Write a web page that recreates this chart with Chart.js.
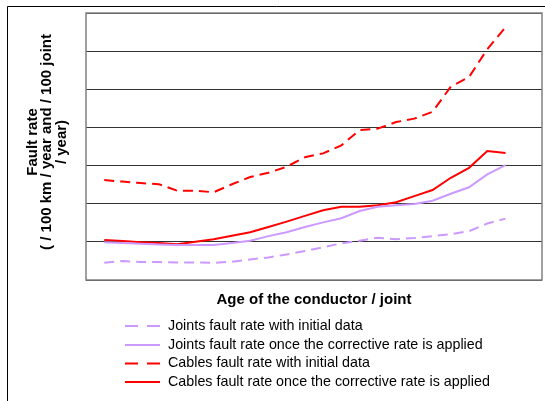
<!DOCTYPE html>
<html>
<head>
<meta charset="utf-8">
<script src="https://cdn.jsdelivr.net/npm/chart.js@4.4.1/dist/chart.umd.min.js"></script>
<style>
  html, body { margin: 0; padding: 0; background: #fff; }
  #wrap { position: relative; width: 545px; height: 401px; }
</style>
</head>
<body>
<div id="wrap"><canvas id="c" width="545" height="401"></canvas></div>
<script>
// Age of the conductor / joint (years)
const ages = [1, 2, 3, 4, 5, 6, 7, 8, 9, 10, 11, 12, 13, 14, 15, 16, 17, 18, 19, 20, 21, 22, 23];

// Fault rate series
const jointsInitial   = [0.45, 0.50, 0.47, 0.47, 0.46, 0.46, 0.45, 0.48, 0.54, 0.59, 0.67, 0.76, 0.86, 0.96, 1.03, 1.11, 1.07, 1.10, 1.15, 1.20, 1.28, 1.48, 1.61];
const jointsCorrected = [0.99, 0.97, 0.95, 0.93, 0.92, 0.92, 0.92, 0.97, 1.03, 1.15, 1.25, 1.39, 1.51, 1.62, 1.81, 1.92, 1.96, 1.99, 2.08, 2.26, 2.43, 2.77, 3.01];
const cablesInitial   = [2.62, 2.58, 2.54, 2.51, 2.34, 2.34, 2.30, 2.51, 2.70, 2.81, 2.97, 3.22, 3.32, 3.53, 3.93, 3.97, 4.14, 4.23, 4.41, 5.07, 5.32, 6.05, 6.63];
const cablesCorrected = [1.05, 1.02, 0.99, 0.97, 0.94, 1.00, 1.07, 1.16, 1.25, 1.39, 1.53, 1.68, 1.83, 1.92, 1.92, 1.96, 2.04, 2.20, 2.36, 2.68, 2.94, 3.38, 3.33];

const seriesLabels = [
  'Joints fault rate with initial data',
  'Joints fault rate once the corrective rate is applied',
  'Cables fault rate with initial data',
  'Cables fault rate once the corrective rate is applied'
];
const yTitleLines = ['Fault rate', '( / 100 km / year and / 100 joint', '/ year)'];
const xTitle = 'Age of the conductor / joint';

const PURPLE = '#cc99ff';
const RED = '#ff0000';
const DASH = [10, 6];

function pts(values) {
  return values.map((v, i) => ({ x: ages[i], y: v }));
}

function series(label, values, color, dashed) {
  return {
    label: label,
    data: pts(values),
    borderColor: color,
    backgroundColor: color,
    borderWidth: 2,
    borderDash: dashed ? DASH : [],
    pointRadius: 0,
    tension: 0,
    fill: false
  };
}

// Titles, frame and legend drawn on top of the chart
const decorations = {
  id: 'decorations',
  afterDraw(chart) {
    const ctx = chart.ctx;
    const a = chart.chartArea;
    ctx.save();

    // outer frame
    ctx.strokeStyle = '#000';
    ctx.lineWidth = 1;
    ctx.beginPath();
    ctx.moveTo(7.5, 401);
    ctx.lineTo(7.5, 6.5);
    ctx.lineTo(545, 6.5);
    ctx.stroke();

    // plot border
    ctx.strokeStyle = '#808080';
    ctx.lineWidth = 1.5;
    ctx.strokeRect(a.left, a.top, a.right - a.left, a.bottom - a.top);

    // y axis title
    ctx.fillStyle = '#000';
    ctx.font = 'bold 15px "Liberation Sans", Arial, sans-serif';
    ctx.textAlign = 'center';
    ctx.textBaseline = 'alphabetic';
    const baselines = [36.5, 51.2, 66];
    const cy = 142;
    yTitleLines.forEach((t, i) => {
      ctx.save();
      ctx.translate(baselines[i], cy);
      ctx.rotate(-Math.PI / 2);
      ctx.fillText(t, 0, 0);
      ctx.restore();
    });

    // x axis title
    ctx.fillText(xTitle, (a.left + a.right) / 2, a.bottom + 24);

    // legend
    ctx.font = '14.3px "Liberation Sans", Arial, sans-serif';
    ctx.textAlign = 'left';
    ctx.textBaseline = 'middle';
    const rows = [325, 344, 362.5, 381];
    chart.data.datasets.forEach((ds, i) => {
      const y = rows[i];
      ctx.strokeStyle = ds.borderColor;
      ctx.lineWidth = 2;
      ctx.setLineDash(ds.borderDash.length ? [13, 9] : []);
      ctx.beginPath();
      ctx.moveTo(125, y + 1);
      ctx.lineTo(160, y + 1);
      ctx.stroke();
      ctx.setLineDash([]);
      ctx.fillStyle = '#000';
      ctx.fillText(ds.label, 168, y + 1);
    });

    ctx.restore();
  }
};

new Chart(document.getElementById('c'), {
  type: 'line',
  data: {
    datasets: [
      series(seriesLabels[0], jointsInitial, PURPLE, true),
      series(seriesLabels[1], jointsCorrected, PURPLE, false),
      series(seriesLabels[2], cablesInitial, RED, true),
      series(seriesLabels[3], cablesCorrected, RED, false)
    ]
  },
  options: {
    responsive: false,
    animation: false,
    layout: { padding: { left: 86, top: 13, right: 3, bottom: 121 } },
    plugins: {
      legend: { display: false },
      tooltip: { enabled: false },
      title: { display: false }
    },
    scales: {
      x: {
        type: 'linear',
        min: 0,
        max: 25,
        display: false
      },
      y: {
        type: 'linear',
        min: 0,
        max: 7,
        display: true,
        ticks: { display: false, stepSize: 1 },
        grid: { color: '#333', lineWidth: 1, drawTicks: false, tickLength: 0 },
        border: { display: false }
      }
    }
  },
  plugins: [decorations]
});
</script>
</body>
</html>
